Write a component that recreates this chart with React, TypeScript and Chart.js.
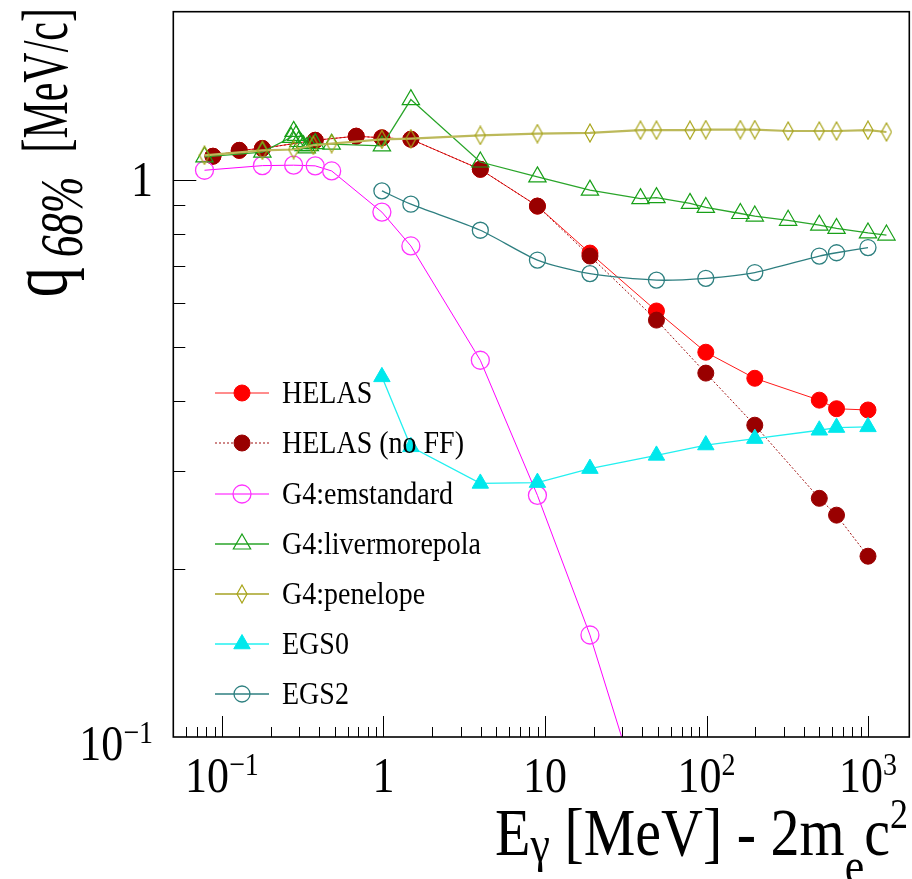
import React, { useEffect, useRef } from 'react';
import { Chart, registerables } from 'chart.js';
Chart.register(...registerables);

// ---------------- data ----------------
const E_HELAS = [0.088, 0.128, 0.178, 0.378, 0.678, 0.978, 1.478, 3.978, 8.978, 18.98, 48.98, 98.98, 198.98, 498.98, 638, 998.98];
const Q_HELAS = [1.101, 1.128, 1.137, 1.176, 1.196, 1.188, 1.181, 1.043, 0.896, 0.738, 0.581, 0.49, 0.44, 0.402, 0.388, 0.386];
const Q_HELAS_NOFF = [1.101, 1.128, 1.137, 1.176, 1.196, 1.188, 1.181, 1.043, 0.896, 0.729, 0.5595, 0.4495, 0.3625, 0.268, 0.25, 0.211];

const E_EMSTD = [0.078, 0.178, 0.278, 0.378, 0.478, 0.978, 1.478, 3.978, 8.978, 18.98, 48.98];
const Q_EMSTD = [1.039, 1.059, 1.061, 1.058, 1.036, 0.874, 0.76, 0.474, 0.2713, 0.1524, 0.063];

const E_LIVER = [0.078, 0.178, 0.268, 0.278, 0.288, 0.298, 0.31, 0.32, 0.335, 0.35, 0.378, 0.478, 0.978, 1.478, 3.978, 8.978, 18.98, 39, 48.98, 79, 98.98, 162, 198.98, 320, 498.98, 638, 998.98, 1300];
const Q_LIVER = [1.098, 1.12, 1.19, 1.22, 1.2, 1.17, 1.16, 1.15, 1.14, 1.15, 1.16, 1.157, 1.149, 1.391, 1.075, 1.011, 0.957, 0.924, 0.928, 0.906, 0.891, 0.869, 0.86, 0.845, 0.828, 0.817, 0.802, 0.795];

const E_PEN = [0.078, 0.178, 0.278, 0.368, 0.478, 0.978, 1.478, 3.978, 8.978, 18.98, 39, 48.98, 79, 98.98, 162, 198.98, 320, 498.98, 638, 998.98, 1300];
const Q_PEN = [1.105, 1.128, 1.132, 1.152, 1.16, 1.18, 1.184, 1.2, 1.209, 1.212, 1.226, 1.226, 1.226, 1.229, 1.229, 1.229, 1.222, 1.222, 1.222, 1.226, 1.217];

const E_EGS = [0.978, 1.478, 3.978, 8.978, 18.98, 48.98, 98.98, 198.98, 498.98, 638, 998.98];
const Q_EGS0 = [0.4426, 0.3315, 0.285, 0.286, 0.303, 0.32, 0.334, 0.343, 0.355, 0.359, 0.36];
const Q_EGS2 = [0.954, 0.903, 0.811, 0.717, 0.678, 0.66, 0.665, 0.681, 0.729, 0.739, 0.755];

const X_TICKS = [0.1, 1, 10, 100, 1000];
const X_TICK_BASE = ['10', '1', '10', '10', '10'];
const X_TICK_SUP = ['\u22121', '', '', '2', '3'];
const Y_TICKS = [0.1, 1];
const Y_TICK_BASE = ['10', '1'];
const Y_TICK_SUP = ['\u22121', ''];

const X_MIN = 0.05, X_MAX = 1800, Y_MIN = 0.1, Y_MAX = 2;

// ---------------- helpers ----------------
const FONT = '"Liberation Serif", "Times New Roman", serif';
type Part = { t: string; size: number; dy?: number; italic?: boolean; gap?: number };

function drawRich(ctx: CanvasRenderingContext2D, parts: Part[], x: number, y: number, align: 'left' | 'center' | 'right', sy: number, rot = 0) {
  ctx.save();
  ctx.translate(x, y);
  if (rot) ctx.rotate(rot);
  ctx.scale(1, sy);
  ctx.textBaseline = 'alphabetic';
  ctx.textAlign = 'left';
  ctx.fillStyle = '#000';
  const fontOf = (p: Part) => `${p.italic ? 'italic ' : ''}${p.size}px ${FONT}`;
  const widths = parts.map((p) => { ctx.font = fontOf(p); return ctx.measureText(p.t).width + (p.gap || 0); });
  const total = widths.reduce((a, b) => a + b, 0);
  let cx = align === 'left' ? 0 : align === 'center' ? -total / 2 : -total;
  parts.forEach((p, i) => {
    ctx.font = fontOf(p);
    ctx.fillText(p.t, cx, (p.dy || 0) / sy);
    cx += widths[i];
  });
  ctx.restore();
  return total;
}

function makeDiamond(color: string) {
  const c = document.createElement('canvas');
  c.width = 12; c.height = 20;
  const g = c.getContext('2d')!;
  g.strokeStyle = color; g.lineWidth = 1.2;
  g.beginPath(); g.moveTo(6, 1); g.lineTo(11, 10); g.lineTo(6, 19); g.lineTo(1, 10); g.closePath(); g.stroke();
  return c;
}

function drawMarker(ctx: CanvasRenderingContext2D, style: any, x: number, y: number, r: number, fill: string, stroke: string, lw: number) {
  if (style instanceof HTMLCanvasElement) {
    ctx.drawImage(style, x - style.width / 2, y - style.height / 2);
    return;
  }
  ctx.beginPath();
  if (style === 'triangle') {
    let rad = 0;
    ctx.moveTo(x + Math.sin(rad) * r, y - Math.cos(rad) * r);
    rad += (2 * Math.PI) / 3;
    ctx.lineTo(x + Math.sin(rad) * r, y - Math.cos(rad) * r);
    rad += (2 * Math.PI) / 3;
    ctx.lineTo(x + Math.sin(rad) * r, y - Math.cos(rad) * r);
    ctx.closePath();
  } else {
    ctx.arc(x, y, r, 0, Math.PI * 2);
  }
  if (fill && fill !== 'transparent') { ctx.fillStyle = fill; ctx.fill(); }
  ctx.strokeStyle = stroke; ctx.lineWidth = lw; ctx.stroke();
}

const pts = (xs: number[], ys: number[]) => xs.map((x, i) => ({ x, y: ys[i] }));

const overlay = {
  id: 'rootOverlay',
  afterDraw(chart: any) {
    const { ctx, chartArea: a, scales } = chart;
    const sx = scales.x, syc = scales.y;
    ctx.save();
    // ticks
    ctx.strokeStyle = '#000';
    ctx.lineWidth = 1;
    for (let d = -2; d <= 3; d++) {
      for (let m = 1; m <= 9; m++) {
        const v = m * Math.pow(10, d);
        if (v < X_MIN || v > X_MAX) continue;
        const px = Math.round(sx.getPixelForValue(v)) + 0.5;
        const len = m === 1 ? 21 : 10;
        ctx.beginPath(); ctx.moveTo(px, a.bottom); ctx.lineTo(px, a.bottom - len); ctx.stroke();
      }
    }
    for (let d = -1; d <= 0; d++) {
      for (let m = 1; m <= 9; m++) {
        const v = m * Math.pow(10, d);
        if (v <= Y_MIN || v >= Y_MAX) continue;
        const py = Math.round(syc.getPixelForValue(v)) + 0.5;
        const len = m === 1 ? 23 : 12;
        ctx.beginPath(); ctx.moveTo(a.left, py); ctx.lineTo(a.left + len, py); ctx.stroke();
      }
    }
    // frame
    ctx.lineWidth = 1.6;
    ctx.strokeStyle = '#000';
    ctx.strokeRect(a.left, a.top, a.right - a.left, a.bottom - a.top);

    // x tick labels
    X_TICKS.forEach((v, i) => {
      const px = sx.getPixelForValue(v);
      const parts: Part[] = [{ t: X_TICK_BASE[i], size: 44 }];
      if (X_TICK_SUP[i]) parts.push({ t: X_TICK_SUP[i], size: 28, dy: -17 });
      drawRich(ctx, parts, px, 792, 'center', 1.15);
    });
    // y tick labels
    Y_TICKS.forEach((v, i) => {
      const py = syc.getPixelForValue(v);
      const parts: Part[] = [{ t: Y_TICK_BASE[i], size: 44 }];
      if (Y_TICK_SUP[i]) parts.push({ t: Y_TICK_SUP[i], size: 28, dy: -17 });
      drawRich(ctx, parts, 153, py + (Y_TICK_SUP[i] ? 23 : 16.5), 'right', 1.15);
    });

    // axis titles
    drawRich(ctx, [
      { t: 'E', size: 58 },
      { t: '\u03b3', size: 44, dy: 6 },
      { t: ' [MeV] - 2m', size: 58 },
      { t: 'e', size: 44, dy: 28 },
      { t: 'c', size: 58 },
      { t: '2', size: 36, dy: -27 },
    ], 908, 855, 'right', 1.17);
    // y title: "[MeV/c]" part right-aligned at the top, then q_68% below it
    const unitLen = drawRich(ctx, [{ t: '[MeV/c]', size: 42 }], 67, 8, 'right', 1.55, -Math.PI / 2);
    drawRich(ctx, [
      { t: 'q', size: 60, gap: 10 },
      { t: '68%', size: 44, dy: 16, italic: true },
    ], 66, 8 + unitLen + 24, 'right', 1.38, -Math.PI / 2);

    // legend
    const rows = [393, 443, 494, 544, 594, 644, 694];
    chart.data.datasets.forEach((ds: any, i: number) => {
      const y = rows[i];
      ctx.save();
      ctx.strokeStyle = ds.borderColor;
      ctx.lineWidth = ds.borderWidth;
      ctx.setLineDash(ds.borderDash || []);
      ctx.beginPath(); ctx.moveTo(215, y); ctx.lineTo(269, y); ctx.stroke();
      ctx.restore();
      drawMarker(ctx, ds.pointStyle, 242, y, ds.pointRadius, ds.pointBackgroundColor, ds.pointBorderColor, ds.pointBorderWidth);
      drawRich(ctx, [{ t: ds.label, size: 28 }], 282, y + 10, 'left', 1.15);
    });
    ctx.restore();
  },
};

export default function App() {
  const ref = useRef<HTMLCanvasElement | null>(null);
  useEffect(() => {
    if (!ref.current) return;
    const diamond = makeDiamond('#a8a418');
    const chart = new Chart(ref.current, {
      type: 'line',
      data: {
        datasets: [
          {
            label: 'HELAS', data: pts(E_HELAS, Q_HELAS), borderColor: '#ff1a1a', borderWidth: 1,
            pointStyle: 'circle', pointRadius: 8, pointBackgroundColor: '#ff0000', pointBorderColor: '#ff0000', pointBorderWidth: 1, order: 7,
          },
          {
            label: 'HELAS (no FF)', data: pts(E_HELAS, Q_HELAS_NOFF), borderColor: '#a01010', borderWidth: 1, borderDash: [2, 2],
            pointStyle: 'circle', pointRadius: 8, pointBackgroundColor: '#990000', pointBorderColor: '#990000', pointBorderWidth: 1, order: 6,
          },
          {
            label: 'G4:emstandard', data: pts(E_EMSTD, Q_EMSTD), borderColor: '#ff00ff', borderWidth: 1,
            pointStyle: 'circle', pointRadius: 9, pointBackgroundColor: 'transparent', pointBorderColor: '#ff33ff', pointBorderWidth: 1.3, order: 5,
          },
          {
            label: 'G4:livermorepola', data: pts(E_LIVER, Q_LIVER), borderColor: '#2aa52a', borderWidth: 1.3,
            pointStyle: 'triangle', pointRadius: 10, pointBackgroundColor: 'transparent', pointBorderColor: '#18a018', pointBorderWidth: 1.2, order: 4,
          },
          {
            label: 'G4:penelope', data: pts(E_PEN, Q_PEN), borderColor: '#bcb95a', borderWidth: 2.2,
            pointStyle: diamond, pointRadius: 8, pointBackgroundColor: 'transparent', pointBorderColor: '#a8a418', pointBorderWidth: 1.2, order: 3,
          },
          {
            label: 'EGS0', data: pts(E_EGS, Q_EGS0), borderColor: '#22f0f0', borderWidth: 1.3,
            pointStyle: 'triangle', pointRadius: 9.5, pointBackgroundColor: '#00e8ec', pointBorderColor: '#00e8ec', pointBorderWidth: 1, order: 2,
          },
          {
            label: 'EGS2', data: pts(E_EGS, Q_EGS2), borderColor: '#2e7f80', borderWidth: 1.3, tension: 0.25,
            pointStyle: 'circle', pointRadius: 8, pointBackgroundColor: 'transparent', pointBorderColor: '#2e8080', pointBorderWidth: 1.3, order: 1,
          },
        ] as any,
      },
      options: {
        animation: false,
        responsive: false,
        events: [],
        layout: { autoPadding: false, padding: { top: 11.7, right: 2.7, left: 0, bottom: 0 } },
        plugins: { legend: { display: false }, tooltip: { enabled: false } },
        scales: {
          x: {
            type: 'logarithmic', min: X_MIN, max: X_MAX,
            ticks: { display: false }, grid: { display: false }, border: { display: false },
            afterFit: (s: any) => { s.height = 142; s.paddingLeft = 0; s.paddingRight = 0; },
          },
          y: {
            type: 'logarithmic', min: Y_MIN, max: Y_MAX,
            ticks: { display: false }, grid: { display: false }, border: { display: false },
            afterFit: (s: any) => { s.width = 173.3; s.paddingTop = 0; s.paddingBottom = 0; },
          },
        },
      } as any,
      plugins: [overlay],
    });
    return () => chart.destroy();
  }, []);
  return (
    <div style={{ position: 'absolute', left: 0, top: 0, width: 912, height: 879, background: '#fff' }}>
      <canvas ref={ref} width={912} height={879} style={{ display: 'block' }} />
    </div>
  );
}
